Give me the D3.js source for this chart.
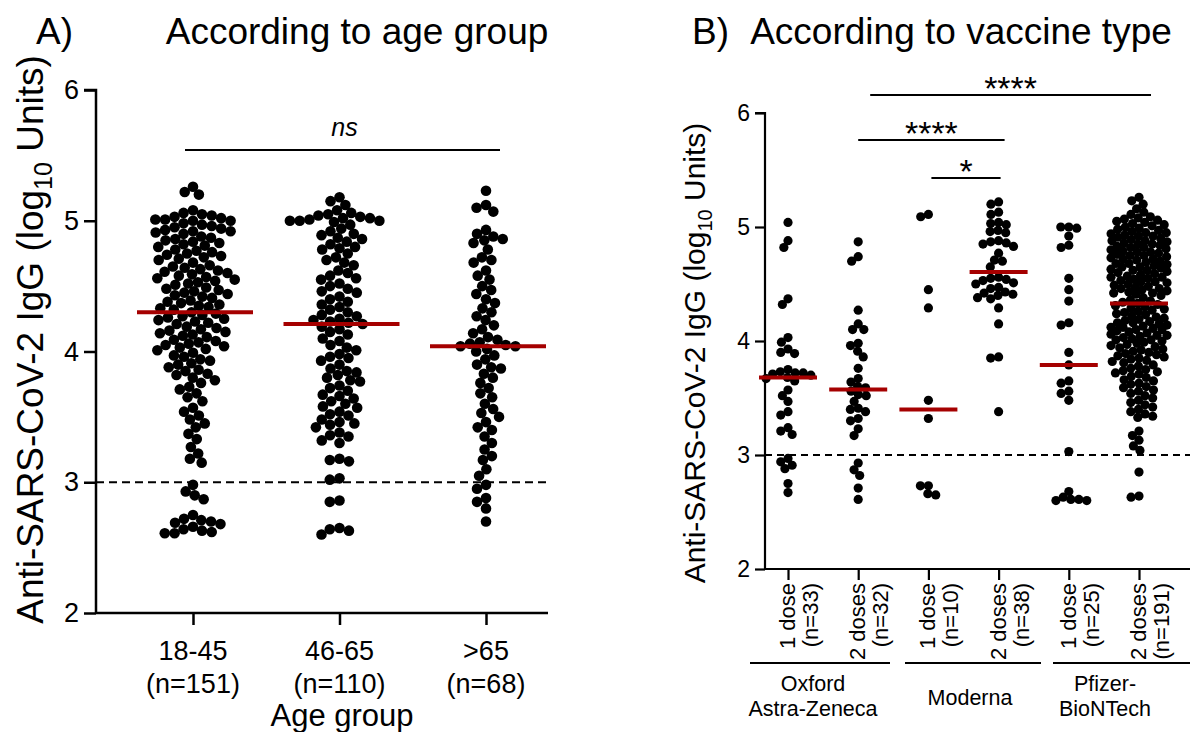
<!DOCTYPE html>
<html>
<head>
<meta charset="utf-8">
<script src="https://cdn.jsdelivr.net/npm/d3@7"></script>
<style>
  body { margin: 0; background: #fff; }
  svg { display: block; font-family: "Liberation Sans", Arial, sans-serif; }
</style>
</head>
<body>
<svg id="chart" width="1196" height="732"></svg>
<script>
// --- Data: anti-SARS-CoV-2 IgG, log10 units ---

// Panel A: by age group
const ageGroups = ['18-45', '46-65', '>65'];
const ageCounts = ['(n=151)', '(n=110)', '(n=68)'];

const age18to45 = [
    5.26, 5.22, 5.20,
    5.08, 5.06, 5.05, 5.04, 5.03, 5.02, 5.01, 5.01, 5.00, 5.00,
    4.98, 4.97, 4.96, 4.95, 4.94, 4.93, 4.92, 4.92, 4.91, 4.90,
    4.88, 4.87, 4.86, 4.85, 4.84, 4.83, 4.82, 4.81, 4.80,
    4.78, 4.77, 4.76, 4.75, 4.74, 4.73, 4.72, 4.71, 4.70,
    4.68, 4.66, 4.65, 4.64, 4.63, 4.62, 4.61, 4.60,
    4.59, 4.58, 4.57, 4.56, 4.55, 4.54, 4.53, 4.52, 4.51,
    4.49, 4.48, 4.47, 4.46, 4.45, 4.44, 4.43, 4.42, 4.41,
    4.39, 4.38, 4.37, 4.36, 4.35, 4.34, 4.33, 4.32,
    4.30,
    4.29, 4.28, 4.27, 4.26, 4.25, 4.24, 4.23, 4.22, 4.21,
    4.19, 4.18, 4.17, 4.16, 4.15, 4.14, 4.13, 4.12, 4.11,
    4.09, 4.08, 4.07, 4.06, 4.05, 4.04, 4.03, 4.02, 4.01,
    3.99, 3.97, 3.96, 3.94, 3.93, 3.91, 3.90,
    3.88, 3.86, 3.85, 3.83, 3.82, 3.80,
    3.78, 3.76, 3.73, 3.71,
    3.68, 3.65, 3.62,
    3.57, 3.54, 3.51,
    3.48, 3.45, 3.42,
    3.37, 3.33,
    3.27, 3.22,
    3.18, 3.15,
    2.98, 2.93,
    2.90, 2.87,
    2.75, 2.72, 2.71, 2.70, 2.69, 2.68, 2.66, 2.64, 2.63, 2.62, 2.61, 2.61
];

const age46to65 = [
    5.18, 5.15, 5.12,
    5.08, 5.06, 5.05, 5.04, 5.03, 5.02, 5.02, 5.01, 5.00, 5.00, 5.00, 4.99,
    4.97, 4.94, 4.92, 4.90, 4.89, 4.87,
    4.86, 4.84, 4.82, 4.80, 4.79, 4.78,
    4.75, 4.72, 4.70, 4.68, 4.66,
    4.62, 4.60, 4.58, 4.56, 4.55,
    4.52, 4.50, 4.48, 4.46, 4.45,
    4.42, 4.40, 4.38, 4.36,
    4.34, 4.32, 4.30, 4.28,
    4.27, 4.25, 4.24, 4.23,
    4.22,
    4.21, 4.19, 4.17, 4.15, 4.13,
    4.10, 4.08, 4.05, 4.03, 4.01,
    3.98, 3.96, 3.95, 3.93, 3.90,
    3.87, 3.85, 3.84, 3.82, 3.80,
    3.78, 3.77, 3.74, 3.72, 3.70,
    3.67, 3.66, 3.64, 3.62, 3.60,
    3.58, 3.57, 3.54, 3.52, 3.51,
    3.48, 3.46, 3.45, 3.44, 3.42,
    3.38, 3.36, 3.35, 3.32, 3.30,
    3.18, 3.17, 3.16,
    3.03, 3.02,
    2.86, 2.85,
    2.65, 2.64, 2.63, 2.60
];

const ageOver65 = [
    5.23, 5.12, 5.10, 5.07,
    4.93, 4.90, 4.88, 4.86, 4.85, 4.83,
    4.78, 4.72, 4.70, 4.68,
    4.62, 4.58, 4.55,
    4.50, 4.47, 4.44, 4.40,
    4.37, 4.33, 4.30, 4.27,
    4.24, 4.20, 4.17, 4.14,
    4.11, 4.09, 4.07, 4.06, 4.05,
    4.04, 4.04, 4.02, 4.00,
    3.97, 3.94, 3.90, 3.88, 3.87,
    3.83, 3.80, 3.76, 3.72,
    3.68, 3.65, 3.60, 3.56,
    3.53, 3.50, 3.46, 3.42, 3.40,
    3.35, 3.30, 3.25,
    3.20, 3.17, 3.10, 3.05,
    2.98, 2.95,
    2.88, 2.85, 2.80,
    2.70
];

// Panel B: by vaccine type and doses
const vaccineCats = ['az1', 'az2', 'mo1', 'mo2', 'pf1', 'pf2'];
const doseLabels = ['1 dose', '2 doses', '1 dose', '2 doses', '1 dose', '2 doses'];
const vaccineCounts = ['(n=33)', '(n=32)', '(n=10)', '(n=38)', '(n=25)', '(n=191)'];
const vaccineNames = [['Oxford', 'Astra-Zeneca'], ['Moderna'], ['Pfizer-', 'BioNTech']];

const astra1 = [
    5.04, 4.88, 4.82, 4.37, 4.32, 4.03, 3.99, 3.93, 3.90, 3.89,
    3.75, 3.73, 3.72, 3.72, 3.71, 3.70,
    3.68,
    3.67, 3.65, 3.57, 3.52, 3.47, 3.38, 3.35, 3.24, 3.21, 3.18,
    2.97, 2.94, 2.91, 2.88, 2.75, 2.67
];
const astra2 = [
    4.87, 4.74, 4.70, 4.27, 4.15, 4.10, 4.10, 3.98, 3.96, 3.91,
    3.86, 3.76, 3.67, 3.64, 3.60, 3.59,
    3.56, 3.53, 3.52, 3.47, 3.41, 3.40, 3.38, 3.32, 3.30, 3.23,
    3.17, 2.93, 2.87, 2.82, 2.71, 2.61
];
const moderna1 = [5.11, 5.09, 4.45, 4.29, 3.48, 3.32, 2.73, 2.73, 2.66, 2.65];
const moderna2 = [
    5.22, 5.20, 5.13, 5.11, 5.04, 5.03, 5.02, 4.97, 4.96, 4.95,
    4.88, 4.87, 4.86, 4.85, 4.83, 4.77, 4.71, 4.70, 4.65,
    4.56, 4.55, 4.54, 4.53, 4.51, 4.50, 4.47, 4.46, 4.43, 4.42,
    4.41, 4.40, 4.38, 4.37, 4.29, 4.15, 3.86, 3.85, 3.38
];
const pfizer1 = [
    5.00, 5.00, 4.99, 4.92, 4.84, 4.82, 4.55, 4.45, 4.35, 4.16, 4.14, 3.90,
    3.79,
    3.65, 3.63, 3.56, 3.54, 3.48, 3.03, 2.68, 2.63, 2.61, 2.61, 2.60, 2.60
];
const pfizer2 = [
    5.26, 5.23, 5.20, 5.16, 5.13, 5.11,
    5.09, 5.08, 5.07, 5.06, 5.05, 5.04, 5.03, 5.02, 5.01, 5.00,
    4.99, 4.98, 4.97, 4.96, 4.95, 4.95, 4.94, 4.93, 4.92, 4.92, 4.91, 4.90,
    4.89, 4.88, 4.88, 4.87, 4.86, 4.85, 4.85, 4.84, 4.83, 4.82, 4.82, 4.81, 4.80,
    4.79, 4.78, 4.78, 4.77, 4.76, 4.75, 4.75, 4.74, 4.73, 4.72, 4.72, 4.71, 4.70,
    4.69, 4.68, 4.68, 4.67, 4.66, 4.65, 4.65, 4.64, 4.63, 4.62, 4.62, 4.61, 4.60,
    4.59, 4.58, 4.57, 4.56, 4.56, 4.55, 4.54, 4.53, 4.52, 4.52, 4.51, 4.50,
    4.49, 4.48, 4.47, 4.46, 4.46, 4.45, 4.44, 4.43, 4.42, 4.42, 4.41, 4.40,
    4.38, 4.36, 4.35, 4.34,
    4.33,
    4.32, 4.31, 4.30, 4.29, 4.28, 4.27, 4.26, 4.25, 4.24, 4.23, 4.22, 4.21, 4.20,
    4.19, 4.18, 4.17, 4.16, 4.16, 4.15, 4.14, 4.13, 4.12, 4.12, 4.11, 4.10, 4.10,
    4.09, 4.08, 4.07, 4.06, 4.05, 4.05, 4.04, 4.03, 4.02, 4.01, 4.01, 4.00,
    3.99, 3.98, 3.97, 3.96, 3.95, 3.94, 3.93, 3.92, 3.91, 3.90,
    3.89, 3.88, 3.87, 3.86, 3.85, 3.84, 3.83, 3.82, 3.81,
    3.79, 3.78, 3.76, 3.75, 3.74, 3.73, 3.72, 3.71,
    3.69, 3.68, 3.66, 3.65, 3.63, 3.62, 3.60,
    3.59, 3.57, 3.56, 3.54, 3.52, 3.50,
    3.48, 3.46, 3.44, 3.42, 3.40,
    3.38, 3.36, 3.34, 3.33,
    3.21, 3.17, 3.13, 3.08, 3.04,
    2.85,
    2.64, 2.63
];

const yTicks = [2, 3, 4, 5, 6];
const cutoff = 3;

const MEDIAN_RED = '#a50000';
const FONT = '"Liberation Sans", Arial, sans-serif';

const svg = d3.select('#chart');

// --- Beeswarm: place each point as close to the centre as it can go ---
function swarm(values, y, r, maxHalf) {
    const d = 2 * r;
    const pts = values.map(v => ({ v, y: y(v) })).sort((a, b) => a.y - b.y);
    const placed = [];
    for (const p of pts) {
        const near = placed.filter(q => Math.abs(q.y - p.y) < d);
        const cands = [0];
        near.forEach(q => {
            const dx = Math.sqrt(d * d - (q.y - p.y) ** 2);
            cands.push(q.dx + dx, q.dx - dx);
        });
        cands.sort((a, b) => Math.abs(a) - Math.abs(b) || a - b);
        let best = null;
        for (const c of cands) {
            if (Math.abs(c) > maxHalf) break;
            if (near.every(q => (q.dx - c) ** 2 + (q.y - p.y) ** 2 >= d * d - 0.01)) { best = c; break; }
        }
        if (best === null) {
            // no free spot inside the column: take the least crowded one
            let bestGap = -1;
            for (let c = -maxHalf; c <= maxHalf; c += 1) {
                const gap = d3.min(near, q => (q.dx - c) ** 2 + (q.y - p.y) ** 2);
                if (gap > bestGap) { bestGap = gap; best = c; }
            }
        }
        p.dx = best;
        placed.push(p);
    }
    return placed;
}

function drawDots(g, values, cx, y, r, maxHalf, packR) {
    g.append('g').selectAll('circle')
        .data(swarm(values, y, packR, maxHalf))
        .join('circle')
        .attr('cx', d => cx + d.dx)
        .attr('cy', d => d.y)
        .attr('r', r)
        .attr('fill', '#000');
}

// ================= Panel A =================
(function panelA() {
    const left = 96, right = 548, top = 90, bottom = 613;
    const y = d3.scaleLinear().domain([2, 6]).range([bottom, top]);
    const x = d3.scalePoint().domain(ageGroups).range([193, 486]);
    const g = svg.append('g');

    g.append('text').attr('x', 36).attr('y', 44).attr('font-size', 37).text('A)');
    g.append('text').attr('x', 357).attr('y', 44).attr('font-size', 37)
        .attr('text-anchor', 'middle').text('According to age group');

    // y axis
    const ya = g.append('g').attr('transform', `translate(${left},0)`)
        .call(d3.axisLeft(y).tickValues(yTicks).tickFormat(d3.format('d')).tickSize(12).tickPadding(5));
    ya.selectAll('text').attr('font-size', 27).attr('fill', '#000').attr('font-family', FONT);
    ya.selectAll('line, path').attr('stroke', '#000').attr('stroke-width', 2.5);
    ya.select('.domain').attr('d', `M0,${bottom}V${top}H-12`);

    // x axis
    const xa = g.append('g').attr('transform', `translate(0,${bottom})`)
        .call(d3.axisBottom(x).tickSize(12).tickFormat(''));
    xa.select('.domain').attr('d', `M${left},0H${right}`);
    xa.selectAll('line, path').attr('stroke', '#000').attr('stroke-width', 2.5);

    ageGroups.forEach((c, i) => {
        const t = g.append('text').attr('text-anchor', 'middle').attr('font-size', 27);
        t.append('tspan').attr('x', x(c)).attr('y', 660).text(c);
        t.append('tspan').attr('x', x(c)).attr('y', 693).text(ageCounts[i]);
    });
    g.append('text').attr('x', (left + right) / 2 + 20).attr('y', 726).attr('text-anchor', 'middle')
        .attr('font-size', 31).text('Age group');

    // y label
    const yl = g.append('text').attr('transform', `translate(43,${(top + bottom) / 2 - 12}) rotate(-90)`)
        .attr('text-anchor', 'middle').attr('font-size', 37);
    yl.append('tspan').text('Anti-SARS-CoV-2 IgG (log');
    yl.append('tspan').attr('font-size', 25).attr('dy', 9).text('10');
    yl.append('tspan').attr('dy', -9).text(' Units)');

    // cutoff
    g.append('line').attr('x1', left).attr('x2', right).attr('y1', y(cutoff)).attr('y2', y(cutoff))
        .attr('stroke', '#000').attr('stroke-width', 2).attr('stroke-dasharray', '8,5');

    // dots + medians
    [age18to45, age46to65, ageOver65].forEach((vals, i) => {
        const cx = x(ageGroups[i]);
        drawDots(g, vals, cx, y, 5.3, 56, 4.9);
        const m = d3.median(vals);
        g.append('line').attr('x1', cx - 56).attr('x2', cx + 60).attr('y1', y(m)).attr('y2', y(m))
            .attr('stroke', MEDIAN_RED).attr('stroke-width', 4);
    });

    // ns bracket
    const by = 150;
    g.append('line').attr('x1', x(ageGroups[0]) - 8).attr('x2', x(ageGroups[2]) + 14)
        .attr('y1', by).attr('y2', by).attr('stroke', '#000').attr('stroke-width', 2.2);
    g.append('text').attr('x', x(ageGroups[1]) + 5).attr('y', by - 14).attr('text-anchor', 'middle')
        .attr('font-size', 25).attr('font-style', 'italic').text('ns');
})();

// ================= Panel B =================
(function panelB() {
    const left = 765, right = 1190, top = 113, bottom = 569;
    const y = d3.scaleLinear().domain([2, 6]).range([bottom, top]);
    const x = d3.scalePoint().domain(vaccineCats).range([788, 1139]);
    const g = svg.append('g');

    g.append('text').attr('x', 692).attr('y', 44).attr('font-size', 37).text('B)');
    g.append('text').attr('x', 961).attr('y', 44).attr('font-size', 37)
        .attr('text-anchor', 'middle').text('According to vaccine type');

    const ya = g.append('g').attr('transform', `translate(${left},0)`)
        .call(d3.axisLeft(y).tickValues(yTicks).tickFormat(d3.format('d')).tickSize(10).tickPadding(5));
    ya.selectAll('text').attr('font-size', 23).attr('fill', '#000').attr('font-family', FONT);
    ya.selectAll('line, path').attr('stroke', '#000').attr('stroke-width', 2.2);
    ya.select('.domain').attr('d', `M0,${bottom}V${top}H-10`);

    const xa = g.append('g').attr('transform', `translate(0,${bottom})`)
        .call(d3.axisBottom(x).tickSize(11).tickFormat(''));
    xa.select('.domain').attr('d', `M${left},0H${right}`);
    xa.selectAll('line, path').attr('stroke', '#000').attr('stroke-width', 2.2);

    vaccineCats.forEach((c, i) => {
        const t = g.append('text').attr('transform', `translate(${x(c) + 7},583) rotate(-90)`)
            .attr('text-anchor', 'end').attr('font-size', 22);
        t.append('tspan').attr('x', 0).attr('y', 0).text(doseLabels[i]);
        t.append('tspan').attr('x', 0).attr('y', 23).text(vaccineCounts[i]);
    });

    // vaccine group underlines and names
    const groupSpan = [[750, 890], [905, 1041], [1053, 1190]];
    const groupLabelX = [813, 970, 1105];
    vaccineNames.forEach((lines, i) => {
        const [a, b] = groupSpan[i];
        g.append('line').attr('x1', a).attr('x2', b).attr('y1', 663).attr('y2', 663)
            .attr('stroke', '#000').attr('stroke-width', 2.2);
        const y0 = lines.length === 1 ? 705 : 691;
        lines.forEach((s, k) => {
            g.append('text').attr('x', groupLabelX[i]).attr('y', y0 + k * 25).attr('text-anchor', 'middle')
                .attr('font-size', 21.5).text(s);
        });
    });

    const yl = g.append('text').attr('transform', `translate(705,${(top + bottom) / 2 + 12}) rotate(-90)`)
        .attr('text-anchor', 'middle').attr('font-size', 30);
    yl.append('tspan').text('Anti-SARS-CoV-2 IgG (log');
    yl.append('tspan').attr('font-size', 20).attr('dy', 7).text('10');
    yl.append('tspan').attr('dy', -7).text(' Units)');

    g.append('line').attr('x1', left).attr('x2', right).attr('y1', y(cutoff)).attr('y2', y(cutoff))
        .attr('stroke', '#000').attr('stroke-width', 2).attr('stroke-dasharray', '7,5');

    [astra1, astra2, moderna1, moderna2, pfizer1, pfizer2].forEach((vals, i) => {
        const cx = x(vaccineCats[i]);
        drawDots(g, vals, cx, y, 4.6, 28, 4.0);
        const m = d3.median(vals);
        g.append('line').attr('x1', cx - 29).attr('x2', cx + 29).attr('y1', y(m)).attr('y2', y(m))
            .attr('stroke', MEDIAN_RED).attr('stroke-width', 4);
    });

    // significance brackets
    const brackets = [
        { a: 'az2', b: 'pf2', y: 95, da: 12, db: 12, label: '****' },
        { a: 'az2', b: 'mo2', y: 140, da: 0, db: 6, label: '****' },
        { a: 'mo1', b: 'mo2', y: 178, da: 3, db: 2, label: '*' }
    ];
    brackets.forEach(s => {
        const x1 = x(s.a) + s.da, x2 = x(s.b) + s.db;
        g.append('line').attr('x1', x1).attr('x2', x2).attr('y1', s.y).attr('y2', s.y)
            .attr('stroke', '#000').attr('stroke-width', 2.2);
        g.append('text').attr('x', (x1 + x2) / 2).attr('y', s.y + 5).attr('text-anchor', 'middle')
            .attr('font-size', 34).text(s.label);
    });
})();
</script>
</body>
</html>
